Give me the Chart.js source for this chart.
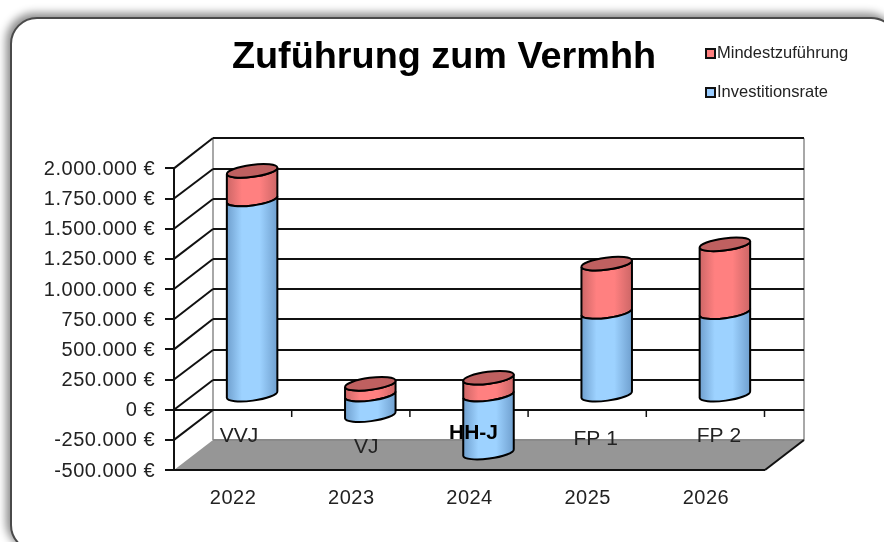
<!DOCTYPE html>
<html>
<head>
<meta charset="utf-8">
<script src="https://cdn.jsdelivr.net/npm/chart.js@4/dist/chart.umd.min.js"></script>
<style>
  html, body { margin: 0; padding: 0; background: #fff; overflow: hidden; }
  #wrap { position: relative; width: 884px; height: 542px; overflow: hidden; }
  #frame {
    position: absolute; left: 10px; top: 17px; width: 888px; height: 535px;
    box-sizing: border-box; border: 2px solid #4a4a4a; border-radius: 27px; background: #fff;
    box-shadow: -3px -3px 9px 1px #8c8c8c;
  }
  canvas { position: absolute; left: 0; top: 0; }
</style>
</head>
<body>
<div id="wrap">
  <div id="frame"></div>
  <canvas id="myChart" width="884" height="542"></canvas>
</div>
<script>
const years = ["2022", "2023", "2024", "2025", "2026"];
const investitionsrate = [1618000, -170000, -480000, 685000, 683000];
const mindestzufuehrung = [237000, 90000, 140000, 401000, 563000];
const phaseLabels = ["VVJ", "VJ", "HH-J", "FP 1", "FP 2"];

// where the hand-placed phase labels sit, relative to the category centre / absolute y
const phaseLabelDx = [6, 15, 4, 8, 13];
const phaseLabelY = [436, 447, 433, 439, 436];

const depthX = 39;
const depthY = 30;

function sideGradient(ctx, left, right, edge, mid) {
  const g = ctx.createLinearGradient(left, 0, right, 0);
  g.addColorStop(0, edge);
  g.addColorStop(0.3, mid);
  g.addColorStop(0.65, mid);
  g.addColorStop(1, edge);
  return g;
}

// bars are drawn as tilted cylinders, half way into the 3d box
Chart.BarElement.prototype.draw = function (ctx) {
  const { x, y, base, width } = this.getProps(["x", "y", "base", "width"]);
  const cx = x + depthX / 2 - 0.5;
  const top = Math.min(y, base) - depthY / 2;
  const bottom = Math.max(y, base) - depthY / 2;
  const a = width / 2;
  const b = 6;
  const rot = -0.13;
  const isTop = this.options.backgroundColor === "#ff8080";
  const colors = isTop ? ["#cc6666", "#ff8080"] : ["#6f9fce", "#9dd2ff"];

  ctx.save();
  ctx.beginPath();
  ctx.ellipse(cx, bottom, a, b, rot, 0, Math.PI);
  ctx.ellipse(cx, top, a, b, rot, Math.PI, 0, true);
  ctx.closePath();
  ctx.fillStyle = sideGradient(ctx, cx - a, cx + a, colors[0], colors[1]);
  ctx.fill();
  ctx.lineWidth = 2;
  ctx.strokeStyle = "#000";
  ctx.stroke();
  if (isTop) {
    ctx.beginPath();
    ctx.ellipse(cx, top, a, b, rot, 0, Math.PI * 2);
    ctx.fillStyle = "#bf6060";
    ctx.fill();
    ctx.stroke();
  }
  ctx.restore();
};

function line(ctx, x1, y1, x2, y2, color, w) {
  ctx.beginPath();
  ctx.moveTo(x1, y1);
  ctx.lineTo(x2, y2);
  ctx.strokeStyle = color;
  ctx.lineWidth = w;
  ctx.stroke();
}

const box3d = {
  id: "box3d",
  afterLayout(chart) {
    // title sits over the whole picture, not only over the plot
    const block = chart.titleBlock;
    block.left = 4;
    block.right = 884;
    if (!block.patched) {
      const drawTitle = block.draw;
      block.draw = function () {
        chart.ctx.save();
        chart.ctx.letterSpacing = "0px";
        drawTitle.call(this);
        chart.ctx.restore();
      };
      block.patched = true;
    }
  },
  beforeDraw(chart) {
    // the axis text in the picture is a bit stretched
    chart.ctx.letterSpacing = "0.5px";
  },
  beforeDatasetsDraw(chart) {
    const ctx = chart.ctx;
    const { left, right, top, bottom } = chart.chartArea;
    const yScale = chart.scales.y;
    const xScale = chart.scales.x;
    ctx.save();

    // floor
    ctx.beginPath();
    ctx.moveTo(left, bottom);
    ctx.lineTo(left + depthX, bottom - depthY);
    ctx.lineTo(right + depthX, bottom - depthY);
    ctx.lineTo(right, bottom);
    ctx.closePath();
    ctx.fillStyle = "#969696";
    ctx.fill();

    // walls
    line(ctx, left + depthX, top - depthY, left + depthX, bottom - depthY, "#a8a8a8", 2);
    line(ctx, right + depthX, top - depthY, right + depthX, bottom - depthY, "#a8a8a8", 2);

    // grid on back wall and side wall
    yScale.ticks.forEach((t) => {
      const py = yScale.getPixelForValue(t.value);
      if (t.value > yScale.min) {
        const backY = Math.round(py - depthY);
        line(ctx, left, py, left + depthX, backY, "#111", 2);
        line(ctx, left + depthX, backY, right + depthX, backY, "#111", 2);
      }
    });
    line(ctx, left + depthX, bottom - depthY, right + depthX, bottom - depthY, "#8a8a8a", 2);

    // front edge of the floor
    line(ctx, left - 4, bottom, right, bottom, "#111", 2);
    line(ctx, right, bottom, right + depthX, bottom - depthY, "#111", 2);

    // category axis on the zero line, ticks between the groups
    const zero = Math.round(yScale.getPixelForValue(0));
    line(ctx, left - 9, zero, right, zero, "#111", 2);
    for (let i = 0; i < years.length; i++) {
      const tx = xScale.getPixelForValue(i) + (xScale.getPixelForValue(1) - xScale.getPixelForValue(0)) / 2;
      line(ctx, tx - 0.5, zero, tx - 0.5, zero + 7, "#111", 1.5);
    }
    ctx.restore();
  },
  afterDatasetsDraw(chart) {
    const ctx = chart.ctx;
    const xScale = chart.scales.x;
    ctx.save();

    // phase labels on top of the cylinders
    ctx.textAlign = "center";
    ctx.textBaseline = "middle";
    ctx.letterSpacing = "0px";
    phaseLabels.forEach((txt, i) => {
      ctx.font = (txt === "HH-J" ? "bold " : "") + "21px 'Liberation Sans'";
      ctx.fillStyle = txt === "HH-J" ? "#000" : "#222";
      ctx.fillText(txt, xScale.getPixelForValue(i) + phaseLabelDx[i], phaseLabelY[i]);
    });

    // legend, top dataset first
    ctx.textAlign = "left";
    ctx.font = "16.5px 'Liberation Sans'";
    const rows = [
      { ds: chart.data.datasets[1], y: 53, fill: "#ff8080" },
      { ds: chart.data.datasets[0], y: 92, fill: "#99ccff" },
    ];
    rows.forEach((r) => {
      ctx.fillStyle = r.fill;
      ctx.strokeStyle = "#111";
      ctx.lineWidth = 2;
      ctx.fillRect(706, r.y - 4, 9, 9);
      ctx.strokeRect(706, r.y - 4, 9, 9);
      ctx.fillStyle = "#222";
      ctx.fillText(r.ds.label, 717, r.y);
    });
    ctx.restore();
  },
};

const ctx = document.getElementById("myChart");

const myChart = new Chart(ctx, {
  type: "bar",
  data: {
    labels: years,
    datasets: [
      {
        label: "Investitionsrate",
        data: investitionsrate,
        backgroundColor: "#99ccff",
        clip: false,
      },
      {
        label: "Mindestzuführung",
        data: mindestzufuehrung,
        backgroundColor: "#ff8080",
        clip: false,
      },
    ],
  },
  options: {
    responsive: false,
    animation: false,
    barPercentage: 1,
    categoryPercentage: 0.431,
    layout: {
      autoPadding: false,
      padding: { left: 0, right: 119, top: 0, bottom: 0 },
    },
    plugins: {
      legend: false,
      tooltip: false,
      title: {
        display: true,
        text: "Zuführung zum Vermhh",
        color: "#000",
        font: { family: "'Liberation Sans'", size: 37.8, weight: "bold", lineHeight: 1.2 },
        padding: { top: 35, bottom: 88 },
      },
    },
    scales: {
      x: {
        stacked: true,
        grid: { display: false },
        border: { display: false },
        ticks: {
          color: "#222",
          padding: 8,
          maxRotation: 0,
          font: { family: "'Liberation Sans'", size: 20 },
        },
        afterFit(scale) { scale.height = 72; },
      },
      y: {
        stacked: true,
        min: -500000,
        max: 2000000,
        grid: {
          drawOnChartArea: false,
          color: "#111",
          // zero line is drawn by box3d, a width here would nudge the bar bases apart
          lineWidth: (c) => (c.tick && c.tick.value === 0 ? 0 : 2),
          tickLength: 9,
        },
        border: { color: "#111", width: 2 },
        ticks: {
          stepSize: 250000,
          color: "#222",
          padding: 10,
          labelOffset: 1,
          font: { family: "'Liberation Sans'", size: 20 },
          callback: (v) => v.toLocaleString("de-DE") + " €",
        },
        afterFit(scale) { scale.width = 174; },
      },
    },
  },
  plugins: [box3d],
});
</script>
</body>
</html>
